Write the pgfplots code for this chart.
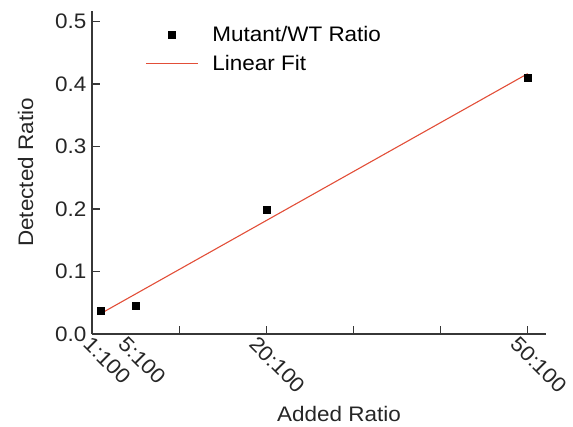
\documentclass[border=0pt]{standalone}
\usepackage{fontspec}
\setmainfont[FakeStretch=1.07]{Liberation Sans}
\usepackage{pgfplots}
\pgfplotsset{compat=1.18}
\definecolor{fitred}{RGB}{226,78,56}
\definecolor{axgray}{RGB}{55,55,55}
\pgfplotsset{
  legline/.style={legend image code/.code={\draw[fitred, line width=1.1pt] (0pt,0pt) -- (52pt,0pt); \path (64pt,0pt);}},
  legmark/.style={legend image code/.code={\fill[black] (22.5pt,-3.5pt) rectangle (29.5pt,3.5pt); \path (0pt,0pt) (60pt,0pt);}},
}
\begin{document}
\begin{tikzpicture}
\begin{axis}[
  name=ax,
  scale only axis,
  width=454pt, height=323pt,
  xmin=0, xmax=52.1, ymin=0, ymax=0.517,
  axis lines=left,
  axis line style={-, line width=1.2pt, axgray},
  every tick/.style={line width=1.2pt, axgray},
  tick align=inside,
  major tick length=8pt,
  xtick={10,20,30,40,50},
  xticklabels={},
  extra x ticks={1,5,20,50},
  extra x tick labels={1:100,5:100,20:100,50:100},
  extra x tick style={major tick length=0pt, tick label style={rotate=-45, anchor=north west, xshift=-8pt, yshift=-3pt}},
  ytick={0,0.1,0.2,0.3,0.4,0.5},
  yticklabel style={/pgf/number format/fixed, /pgf/number format/fixed zerofill, /pgf/number format/precision=1, xshift=-2pt},
  /pgf/number format/assume math mode=true,
  tick label style={font=\fontsize{21}{24}\selectfont, black!85},
  label style={font=\fontsize{21}{24}\selectfont, black!85},
  xlabel={Added Ratio},
  ylabel={Detected Ratio},
  xlabel style={xshift=20pt, yshift=-3pt},
  ylabel style={yshift=15pt},
  legend style={draw=none, fill=none, inner sep=0pt, at={(0.117,0.96)}, anchor=north west, font=\fontsize{21}{24}\selectfont, row sep=8pt, nodes={inner sep=2pt}},
  legend cell align=left,
  clip=false,
]
\addplot[only marks, mark=square*, mark size=3.5pt, black, legmark] coordinates {
  (1,0.037) (5,0.046) (20,0.199) (50,0.411)
};
\addlegendentry{Mutant/WT Ratio}
\addplot[fitred, line width=1.1pt, no marks, legline] coordinates {
  (1,0.0327) (50,0.4167)
};
\addlegendentry{Linear Fit}
\end{axis}
\pgfresetboundingbox
\path (ax.south west) ++(-92pt,-92pt) rectangle ++(573pt,426pt);
\end{tikzpicture}
\end{document}
